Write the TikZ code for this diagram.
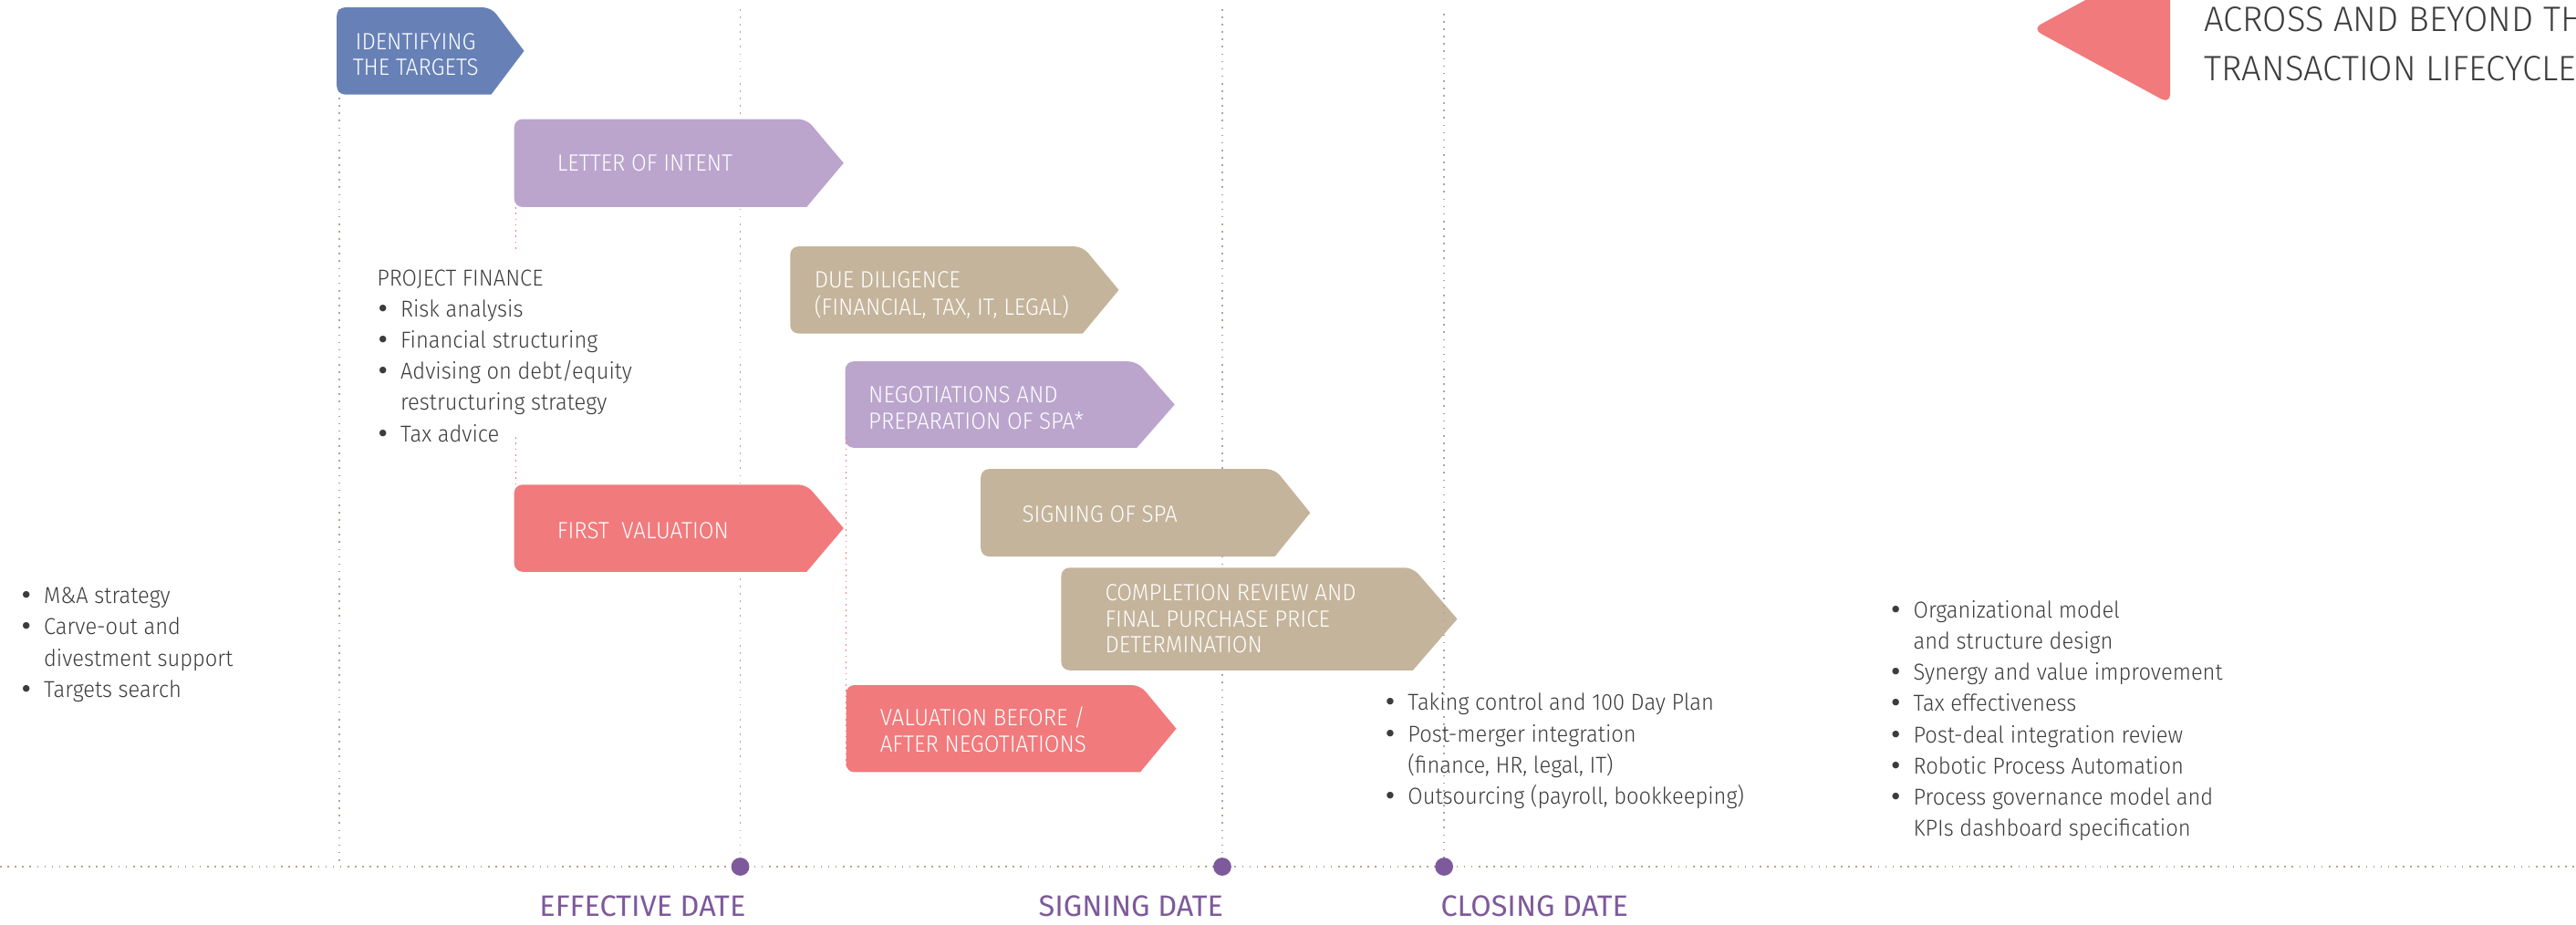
\documentclass[tikz,border=0pt]{standalone}
\usepackage{fontspec}
\IfFontExistsTF{Fira Sans Light}{%
  \setmainfont{Fira Sans Light}[FakeStretch=0.94]%
  \newfontfamily\titlefamily{Fira Sans Light}[FakeStretch=0.985]}{%
  \setmainfont{Fira Sans}[FakeStretch=0.92]%
  \newfontfamily\titlefamily{Fira Sans}[FakeStretch=0.96]}
\newfontfamily\datefamily{Fira Sans}
\newfontfamily\dotfamily{DejaVu Sans}
\definecolor{cblue}{HTML}{6781B7}
\definecolor{cpurple}{HTML}{BBA5CD}
\definecolor{ctan}{HTML}{C4B49B}
\definecolor{cred}{HTML}{F17A7C}
\definecolor{cdate}{HTML}{7D5A9B}
\definecolor{cgrid}{HTML}{B3A595}
\definecolor{ctext}{HTML}{3C3C3C}
\newcommand{\bl}{\makebox[14.3pt][l]{{\dotfamily\hspace*{-0.6pt}•}}}
\newcommand{\ind}{\hspace*{14.3pt}}
% #1 colour, #2 left, #3 top, #4 end of straight part, #5 tip x, #6 bottom
\newcommand{\arrowshape}[6]{%
  \fill[#1] (#2,{(#3+#6)/2}) [rounded corners=5pt] -- (#2,#3) -- (#4,#3) [sharp corners]
    -- (#5,{(#3+#6)/2}) -- (#4,#6) [rounded corners=5pt] -- (#2,#6) -- cycle;}
\begin{document}
\begin{tikzpicture}[x=1pt,y=-1pt,
  gridline/.style={cgrid, line width=0.9pt, dash pattern=on 0.9pt off 3.6pt},
  redline/.style={cred, line width=0.9pt, dash pattern=on 0.9pt off 2.6pt},
  boxtext/.style={text=white, font=\fontsize{14.3}{16}\selectfont, inner sep=0pt, anchor=base west},
  listtext/.style={text=ctext, font=\fontsize{14}{19}\selectfont, inner sep=0pt, anchor=base west},
  datedot/.style={circle, fill=cdate, minimum size=11pt, inner sep=0pt},
  datelabel/.style={text=cdate, font=\datefamily\fontsize{18}{20}\selectfont, inner sep=0pt},
]
\useasboundingbox (0,0) rectangle (1568,562.5);
\clip (0,0) rectangle (1568,562.5);

% timeline and grey guide lines
\coordinate (axl) at (0,527.5);
\coordinate (axr) at (1568,527.5);
\coordinate (g1t) at (206.5,5.5);
\coordinate (g1b) at (206.5,527.5);
\coordinate (g2t) at (450.6,5.5);
\coordinate (effc) at (450.6,527.5);
\coordinate (g3t) at (744,5.5);
\coordinate (sigc) at (744,527.5);
\coordinate (g4t) at (879,8.3);
\coordinate (cloc) at (879,527.5);
\draw[gridline] (axl) -- (axr);
\draw[gridline] (g1t) -- (g1b);
\draw[gridline] (g2t) -- (effc);
\draw[gridline] (g3t) -- (sigc);

% arrow boxes
\arrowshape{cblue}{205}{4.5}{299}{319}{57.5}
\node[boxtext, anchor=base] (ident) at (253,30) {\begin{tabular}[t]{@{}c@{}}IDENTIFYING\\THE TARGETS\end{tabular}};

\arrowshape{cpurple}{313}{72.5}{491}{513.5}{126}
\node[boxtext] (loi) at (339,104) {LETTER OF INTENT};

\arrowshape{ctan}{481}{150}{659}{681}{203}
\node[boxtext] (dd) at (495.5,175) {\begin{tabular}[t]{@{}l@{}}DUE DILIGENCE\\(FINANCIAL, TAX, IT, LEGAL)\end{tabular}};

\arrowshape{cpurple}{514.5}{220}{692}{715}{272.5}
\node[boxtext] (neg) at (528.5,245) {\begin{tabular}[t]{@{}l@{}}NEGOTIATIONS AND\\PREPARATION OF SPA*\end{tabular}};

\arrowshape{cred}{313}{295}{491}{513.5}{348}
\node[boxtext] (fv) at (339,328) {FIRST\ \ VALUATION};

\arrowshape{ctan}{597}{285.5}{776}{797.5}{338.7}
\node[boxtext] (spa) at (622,317.8) {SIGNING OF SPA};

\arrowshape{ctan}{646}{345.5}{860}{887}{408}
\node[boxtext] (comp) at (672.5,365.5) {\begin{tabular}[t]{@{}l@{}}COMPLETION REVIEW AND\\FINAL PURCHASE PRICE\\DETERMINATION\end{tabular}};

\arrowshape{cred}{515}{417}{694}{716}{470}
\node[boxtext] (vb) at (535.5,441.8) {\begin{tabular}[t]{@{}l@{}}VALUATION BEFORE /\\AFTER NEGOTIATIONS\end{tabular}};

% closing-date guide line
\draw[gridline] (g4t) -- (cloc);

% red dotted guides
\coordinate (r1t) at (314,126);
\coordinate (r1b) at (314,154);
\coordinate (r2t) at (314,266);
\coordinate (r2b) at (314,295);
\coordinate (r3t) at (515,266);
\coordinate (r3b) at (515,466);
\draw[redline] (r1t) -- (r1b);
\draw[redline] (r2t) -- (r2b);
\draw[redline] (r3t) -- (r3b);

% date markers
\node[datedot] (eff) at (effc) {};
\node[datedot] (sig) at (sigc) {};
\node[datedot] (clo) at (cloc) {};
\node[datelabel, anchor=base east] (efflbl) at (454,557.5) {EFFECTIVE DATE};
\node[datelabel, anchor=base east] (siglbl) at (744.7,557.5) {SIGNING DATE};
\node[datelabel, anchor=base west] (clolbl) at (876.8,557.5) {CLOSING DATE};

% lists
\node[listtext] (pf) at (229.3,173.8) {\begin{tabular}[t]{@{}l@{}}PROJECT FINANCE\\\bl Risk analysis\\\bl Financial structuring\\\bl Advising on debt/equity\\\ind restructuring strategy\\\bl Tax advice\end{tabular}};

\node[listtext] (ma) at (12.2,367.4) {\begin{tabular}[t]{@{}l@{}}\bl M\&A strategy\\\bl Carve-out and\\\ind divestment support\\\bl Targets search\end{tabular}};

\node[listtext] (post) at (842.5,432.5) {\begin{tabular}[t]{@{}l@{}}\bl Taking control and 100 Day Plan\\\bl Post-merger integration\\\ind (finance, HR, legal, IT)\\\bl Outsourcing (payroll, bookkeeping)\end{tabular}};

\node[listtext] (beyond) at (1150.2,376) {\begin{tabular}[t]{@{}l@{}}\bl Organizational model\\\ind and structure design\\\bl Synergy and value improvement\\\bl Tax effectiveness\\\bl Post-deal integration review\\\bl Robotic Process Automation\\\bl Process governance model and\\\ind KPIs dashboard specification\end{tabular}};

% title
\fill[cred, rounded corners=6pt] (1321,-28) -- (1237,17.6) -- (1321,63.2) -- cycle;
\node[text=ctext, font=\titlefamily\fontsize{21.5}{29.6}\selectfont, inner sep=0pt, anchor=base west] (title) at (1341.5,19.4) {\begin{tabular}[t]{@{}l@{}}ACROSS AND BEYOND THE\\TRANSACTION LIFECYCLE\end{tabular}};
\end{tikzpicture}
\end{document}
